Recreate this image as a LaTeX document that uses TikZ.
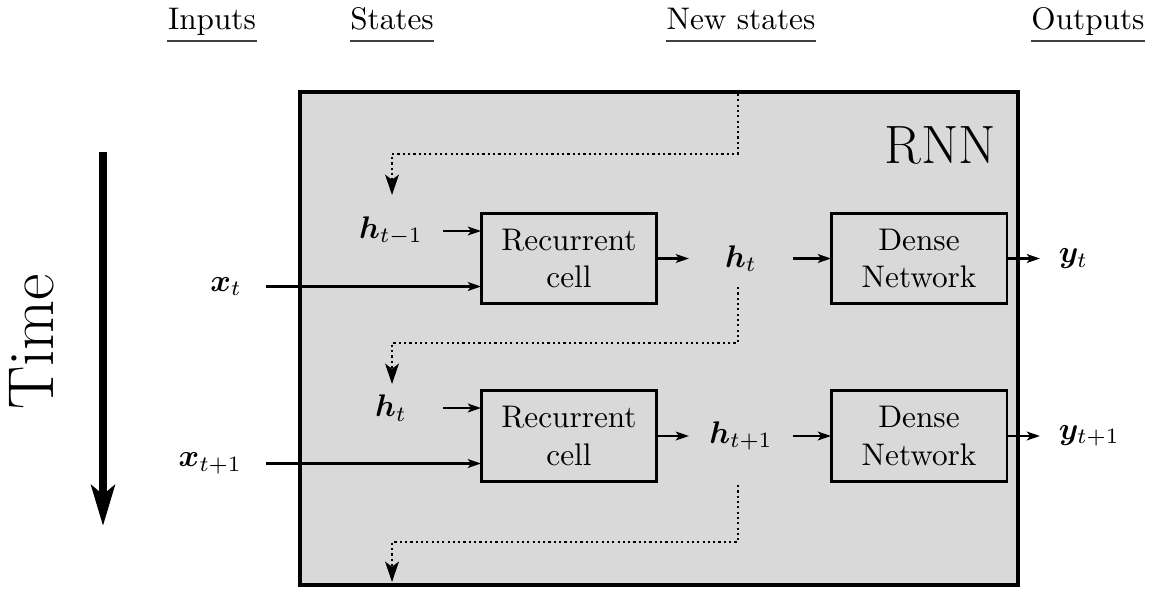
\documentclass[tikz,border=0pt]{standalone}
\usepackage{bm}
\usetikzlibrary{arrows.meta}
\begin{document}
\begin{tikzpicture}[x=0.32pt,y=-0.32pt,
  hdr/.style={anchor=base, inner sep=0pt},
  ul/.style={line width=0.7pt, black!75},
  cellbox/.style={draw, line width=0.95pt, minimum width=56.3pt, minimum height=29.1pt, align=center, inner sep=0pt, outer sep=0pt},
  lbl/.style={inner sep=0pt, outer sep=0pt, minimum width=33.3pt},
  inlbl/.style={anchor=east, inner xsep=7.7pt, inner ysep=0pt, outer sep=0pt},
  outlbl/.style={anchor=west, inner xsep=6pt, inner ysep=0pt, outer sep=0pt},
  flow/.style={line width=0.75pt, -{Stealth[length=4.2pt,width=2.8pt,inset=1pt]}},
  recur/.style={line width=0.75pt, dash pattern=on 0.7pt off 1.0pt, -{Stealth[length=6.5pt,width=4.4pt,inset=1.6pt]}},
  rnnbox/.style={line width=1.4pt, fill=black!15},
  timearrow/.style={line width=2.6pt, -{Stealth[length=13pt,width=7.5pt,inset=3pt]}}
]
\useasboundingbox (0,0) rectangle (1150,588);

% headings
\node[hdr] (hIn)  at (212,29.3)  {Inputs};
\node[hdr] (hSt)  at (392,29.3)  {States};
\node[hdr] (hNew) at (741,29.3)  {New states};
\node[hdr] (hOut) at (1088,29.3) {Outputs};
\foreach \h in {hIn,hSt,hNew,hOut}
  \draw[ul] ([yshift=-3.75pt]\h.base west) -- ([yshift=-3.75pt]\h.base east);

% time
\coordinate (ts) at (103,152);
\coordinate (te) at (103,526);
\draw[timearrow] (ts) -- (te);
\node[rotate=90, font=\huge, inner sep=0pt] (time) at (31.8,342) {Time};

% RNN box
\coordinate (rnnNW) at (300,92);
\coordinate (rnnSE) at (1018,585);
\draw[rnnbox] (rnnNW) rectangle (rnnSE);
\node[anchor=base east, inner sep=0pt, font=\LARGE] (rnnlab) at (997,163) {RNN};

% row 1
\node[cellbox] (rc1) at (569,258.5) {Recurrent\\cell};
\node[cellbox] (dn1) at (919,258.5) {Dense\\Network};
\node[lbl] (hprev) at (391,231) {$\bm{h}_{t-1}$};
\node[inlbl] (xt) at (266,286.5) {$\bm{x}_t$};
\node[lbl] (hmid1) at (741,258.5) {$\bm{h}_t$};
\node[outlbl] (yt) at (1040,258.5) {$\bm{y}_t$};

% row 2
\node[cellbox] (rc2) at (569,436) {Recurrent\\cell};
\node[cellbox] (dn2) at (919,436) {Dense\\Network};
\node[lbl] (hcur2) at (391,408) {$\bm{h}_t$};
\node[inlbl] (xt1) at (266,463.5) {$\bm{x}_{t+1}$};
\node[lbl] (hmid2) at (741,436) {$\bm{h}_{t+1}$};
\node[outlbl] (yt1) at (1040,436) {$\bm{y}_{t+1}$};

% flows row 1
\draw[flow] (hprev.east) -- (rc1.west |- hprev.east);
\draw[flow] (xt.east) -- (rc1.west |- xt.east);
\draw[flow] (rc1.east) -- (hmid1.west);
\draw[flow] (hmid1.east) -- (dn1.west);
\draw[flow] (dn1.east) -- (yt.west);

% flows row 2
\draw[flow] (hcur2.east) -- (rc2.west |- hcur2.east);
\draw[flow] (xt1.east) -- (rc2.west |- xt1.east);
\draw[flow] (rc2.east) -- (hmid2.west);
\draw[flow] (hmid2.east) -- (dn2.west);
\draw[flow] (dn2.east) -- (yt1.west);

% recurrent dotted connections
\coordinate (d0s) at (738,94);
\coordinate (d0e) at (392,195);
\draw[recur] (d0s) -- ++(0,60) -| (d0e);
\coordinate (d1s) at (738,287);
\coordinate (d1e) at (392,384);
\draw[recur] (d1s) -- ++(0,56) -| (d1e);
\coordinate (d2s) at (738,485);
\coordinate (d2e) at (392,582);
\draw[recur] (d2s) -- ++(0,57) -| (d2e);
\end{tikzpicture}
\end{document}
